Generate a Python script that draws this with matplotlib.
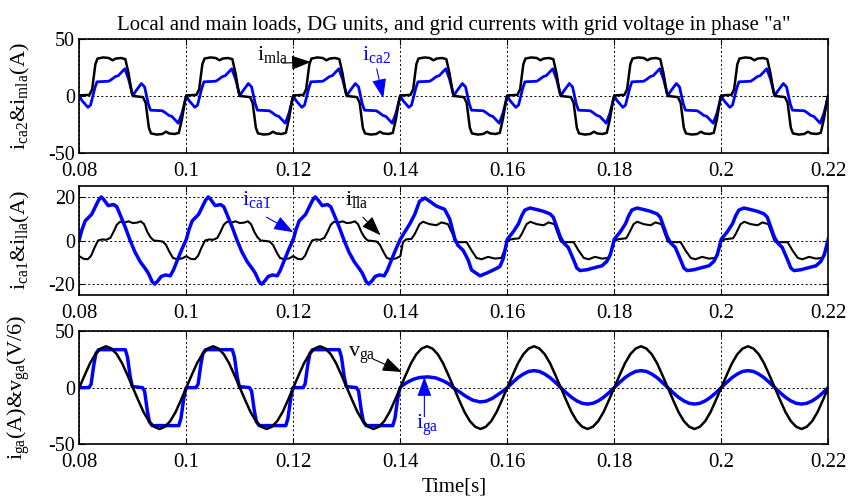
import matplotlib
matplotlib.use("Agg")
import matplotlib.pyplot as plt

plt.rcParams["font.family"] = "Liberation Serif"
plt.rcParams["mathtext.fontset"] = "custom"
plt.rcParams["mathtext.rm"] = "Liberation Serif"
plt.rcParams["mathtext.it"] = "Liberation Serif"
plt.rcParams["mathtext.bf"] = "Liberation Serif:bold"
plt.rcParams["axes.unicode_minus"] = False

# one period (times in ms inside the period)
MLA_T = [0, 1.9, 2.4, 3.0, 3.4, 4.5, 5.5, 6.2, 6.8, 7.8, 8.6, 9.2, 9.8, 10.1,
         11.9, 12.4, 13.0, 13.4, 14.5, 15.5, 16.2, 16.8, 17.8, 18.6, 19.2, 19.8, 20]
I_MLA = [0.5, 1, 6, 28, 33, 34, 33.5, 31.5, 33, 33.5, 32.5, 20, 3, 0,
         -1, -6, -28, -33, -34, -33.5, -31.5, -33, -33.5, -32.5, -20, -3, 0.5]

CA2_T = [0, 0.5, 1.6, 2.1, 2.9, 3.3, 5.5, 6.0, 6.7, 7.3, 8.5, 9.2, 10.0,
         10.5, 11.6, 12.2, 12.9, 13.3, 15.5, 16.0, 16.7, 17.3, 18.5, 19.2, 20]
I_CA2 = [0, -4, -10, -8, 7, 12.5, 13, 14.5, 17, 18, 24, 15, 0,
         4, 11, 8, -7, -12.5, -13, -14.5, -17, -18, -24, -15, 0]

CA1_PRE_T = [0, 0.5, 1.1, 1.7, 2.3, 2.9, 3.6, 4.1, 4.5, 5.1, 5.4, 6.4, 7.0, 7.6, 8.6, 9.5,
             10.4, 11.4, 12.3, 12.9, 13.6, 14.1, 14.7, 15.3, 16.1, 17.0, 17.6, 18.2, 19.2, 20]
I_CA1_PRE = [0.5, 5, 9, 10.5, 12, 15, 18.5, 20, 19, 17, 16, 16.5, 15.5, 12, 6, 0,
             -5.3, -9.8, -12.8, -15, -18.8, -20, -18.5, -16.5, -15.8, -16.2, -13.5, -9.8, -3.8, 0.5]
CA1_TR_T = [0, 0.8, 1.75, 2.7, 3.6, 4.6, 5.5, 6.75, 8.3, 9.25, 10.2, 10.8, 11.75,
            12.7, 13.3, 14.9, 16.1, 17.4, 18.6, 19.25, 20]
I_CA1_TR = [0.5, 3.8, 7.5, 12, 18, 19.5, 18, 15.8, 14.3, 9.8, 0.75, -2.3, -4.5,
            -9, -13.5, -16.2, -15, -13.5, -12, -8.3, 0.6]
CA1_POST_T = [0, 1.1, 2.1, 2.7, 3.3, 4.25, 5.5, 6.75, 8.0, 8.6, 9.25, 9.9, 10.5, 11.4,
              12.4, 13.0, 13.6, 14.9, 16.1, 17.7, 18.6, 19.25, 20]
I_CA1_POST = [0.6, 3.9, 7.7, 11.4, 14, 14.9, 14.2, 13.4, 12.2, 10.7, 6.2, 1.7, -1, -3.2,
              -8.9, -12.6, -13.8, -13.4, -12.6, -11.6, -9.6, -6.6, 0.6]

LLA_PRE_T = [0, 0.8, 1.6, 2.2, 2.8, 3.5, 4.3, 5.0, 5.8, 6.4, 7.0, 7.6, 8.4, 9.2, 10.0,
             10.8, 11.5, 12.1, 12.7, 13.3, 13.9, 14.8, 15.6, 16.2, 16.8, 17.5, 18.3, 19.2, 20]
I_LLA_PRE = [-7.2, -8.4, -8.6, -7, -3.5, 0, 0.5, 0.3, 1.2, 4, 7.2, 8.6, 8.2, 8.8, 8.0,
             8.2, 8.8, 7.5, 4, 1.5, 0, -0.2, -0.5, -2, -5, -8, -8.6, -8.2, -7.2]
LLA_TR_T = [0, 0.5, 1.1, 2.1, 2.7, 3.6, 4.25, 5.5, 6.75, 7.7, 8.9, 9.9, 10.2, 11.1,
            12.4, 13.3, 14.25, 15.2, 16.4, 17.7, 18.9, 19.6, 20]
I_LLA_TR = [-7.2, -0.75, 0.5, 0.75, 3, 7.5, 8.6, 7.5, 7, 8.3, 7.5, 2.3, -0.5, -0.75,
            -0.75, -4.5, -8, -8.6, -7.5, -8.3, -8, -3.8, -0.5]
LLA_POST_T = [0, 0.6, 1.4, 2.2, 2.7, 3.6, 4.3, 5.5, 6.8, 7.7, 8.8, 9.4, 10.0, 11.1,
              12.4, 13.3, 14.3, 15.2, 16.4, 17.7, 18.9, 19.6, 20]
I_LLA_POST = [-0.5, 0.5, 0.8, 1.0, 3, 7.5, 8.6, 7.5, 7, 8.3, 7.5, 3.5, -0.5, -0.75,
              -0.75, -4.5, -8, -8.6, -7.5, -8.3, -8, -3.8, -0.5]

V_T = list(range(21))
V_GA = [0, 11, 21.5, 29.5, 34.5, 36.5, 34.5, 29.5, 21.5, 11, 0,
        -11, -21.5, -29.5, -34.5, -36.5, -34.5, -29.5, -21.5, -11, 0]

GA_PRE_T = [0, 1.8, 2.2, 2.7, 3.1, 3.6, 8.6, 9.0, 9.5, 9.9, 11.8,
            12.2, 12.7, 13.1, 13.6, 18.6, 19.0, 19.5, 19.9, 20]
I_GA_PRE = [0, 0, 3, 20, 30, 33.5, 33.5, 27, 10, 1, 0,
            -3, -20, -30, -33.5, -33.5, -27, -10, -1, 0]
GA_TR_T = [0, 0.4, 1.4, 2.5, 3.7, 5.2, 6.7, 8.0, 9.0, 9.9, 11.0, 12.2, 13.5, 14.9,
           16.0, 17.2, 18.3, 19.2, 20]
I_GA_TR = [0, 2, 5, 7.5, 9, 9.5, 8.5, 6, 3.5, 0, -3.5, -7.5, -11, -12.6,
           -12, -9.5, -6, -3, 0]
GA_POST_T = list(range(21))
I_GA_POST = [0, 4.6, 8.8, 12, 14.3, 15, 14.3, 12, 8.8, 4.6, 0,
             -4.5, -8.5, -11.7, -13.8, -14.5, -13.8, -11.7, -8.5, -4.5, 0]

XTICKS = [0.08, 0.1, 0.12, 0.14, 0.16, 0.18, 0.2, 0.22]
XTICKLABELS = ["0.08", "0.1", "0.12", "0.14", "0.16", "0.18", "0.2", "0.22"]


def tile(t_ms, vals, start, n):
    ts, vs = [], []
    for k in range(n):
        ts += [start + k * 0.02 + t / 1000.0 for t in t_ms]
        vs += list(vals)
    return ts, vs


def join(*parts):
    ts, vs = [], []
    for t, v in parts:
        ts += t
        vs += v
    return ts, vs


t_mla, v_mla = tile(MLA_T, I_MLA, 0.08, 7)
t_ca2, v_ca2 = tile(CA2_T, I_CA2, 0.08, 7)
t_ca1, v_ca1 = join(tile(CA1_PRE_T, I_CA1_PRE, 0.08, 3), tile(CA1_TR_T, I_CA1_TR, 0.14, 1),
                    tile(CA1_POST_T, I_CA1_POST, 0.16, 3))
t_lla, v_lla = join(tile(LLA_PRE_T, I_LLA_PRE, 0.08, 3), tile(LLA_TR_T, I_LLA_TR, 0.14, 1),
                    tile(LLA_POST_T, I_LLA_POST, 0.16, 3))
t_vga, v_vga = tile(V_T, V_GA, 0.08, 7)
t_iga, v_iga = join(tile(GA_PRE_T, I_GA_PRE, 0.08, 3), tile(GA_TR_T, I_GA_TR, 0.14, 1),
                    tile(GA_POST_T, I_GA_POST, 0.16, 3))

fig = plt.figure(figsize=(8.53, 5.03), dpi=100)
ax1 = fig.add_axes([0.093, 0.6964, 0.878, 0.2255])
ax2 = fig.add_axes([0.093, 0.4135, 0.878, 0.2167])
ax3 = fig.add_axes([0.093, 0.1167, 0.878, 0.2253])

ax1.plot(t_ca2, v_ca2, color="blue", lw=2.0)
ax1.plot(t_mla, v_mla, color="black", lw=1.8)
ax2.plot(t_lla, v_lla, color="black", lw=1.5)
ax2.plot(t_ca1, v_ca1, color="blue", lw=2.5)
ax3.plot(t_iga, v_iga, color="blue", lw=2.5)
ax3.plot(t_vga, v_vga, color="black", lw=1.8)

for ax, lim, yt in [(ax1, 50, [-50, 0, 50]), (ax2, 25, [-20, 0, 20]), (ax3, 50, [-50, 0, 50])]:
    ax.set_xlim(0.08, 0.22)
    ax.set_ylim(-lim, lim)
    ax.set_xticks(XTICKS)
    ax.set_xticklabels(XTICKLABELS)
    ax.set_yticks(yt)
    ax.set_yticklabels([str(v) for v in yt])
    ax.tick_params(direction="in", top=True, right=True, length=4, pad=3)
    ax.tick_params(axis="x", pad=6.5, labelsize=15)
    ax.tick_params(axis="y", labelsize=14.5)
    ax.grid(True, color="black", linestyle=(0, (2, 2.5)), lw=0.7)
    for s in ax.spines.values():
        s.set_linewidth(1.2)
    ax.yaxis.set_label_coords(-0.063, 0.5)

ax1.set_ylabel("$i_{ca2}$&$i_{mla}$(A)", fontsize=16)
ax2.set_ylabel("$i_{ca1}$&$i_{lla}$(A)", fontsize=16)
ax3.set_ylabel("$i_{ga}$(A)&$v_{ga}$(V/6)", fontsize=16)
ax3.set_xlabel("Time[s]", fontsize=15, labelpad=3.5)
ax1.set_title('Local and main loads, DG units, and grid currents with grid voltage in phase "a"',
              fontsize=15, pad=7)

arrow = dict(arrowstyle="-|>,head_length=0.6,head_width=0.22", lw=0.8,
             mutation_scale=20, shrinkA=0, shrinkB=0)

ax1.text(0.1132, 31.5, "$i_{mla}$", fontsize=16, color="black")
ax1.annotate("", xy=(0.1233, 30), xytext=(0.1180, 29), arrowprops=dict(arrow, color="black"))
ax1.text(0.1328, 31.5, "$i_{ca2}$", fontsize=16, color="blue")
ax1.annotate("", xy=(0.1368, -2), xytext=(0.1356, 24), arrowprops=dict(arrow, color="blue"))

ax2.text(0.1104, 16.5, "$i_{ca1}$", fontsize=16, color="blue")
ax2.annotate("", xy=(0.1200, 3.8), xytext=(0.1150, 10.7), arrowprops=dict(arrow, color="blue"))
ax2.text(0.1297, 16.5, "$i_{lla}$", fontsize=16, color="black")
ax2.annotate("", xy=(0.1363, 2.4), xytext=(0.1330, 10.7), arrowprops=dict(arrow, color="black"))

ax3.text(0.1302, 27.0, "$v_{ga}$", fontsize=16, color="black")
ax3.annotate("", xy=(0.1403, 13.8), xytext=(0.1349, 25.3), arrowprops=dict(arrow, color="black"))
ax3.text(0.1429, -36.4, "$i_{ga}$", fontsize=16, color="blue")
ax3.annotate("", xy=(0.1445, 9.4), xytext=(0.1445, -25.8), arrowprops=dict(arrow, color="blue"))

fig.savefig("out.png", dpi=100)
